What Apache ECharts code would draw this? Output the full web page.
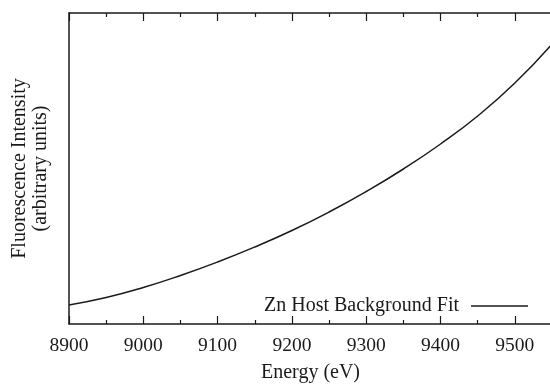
<!DOCTYPE html>
<html>
<head>
<meta charset="utf-8">
<script src="https://cdn.jsdelivr.net/npm/echarts@6/dist/echarts.min.js"></script>
<style>
  html, body { margin: 0; padding: 0; background: #fff; }
  #chart { width: 550px; height: 387px; }
</style>
</head>
<body>
<div id="chart"></div>
<script>
// energy in eV, intensity in arbitrary units
const energy = [8900, 8950, 9000, 9050, 9100, 9150, 9200, 9250, 9300, 9350, 9400, 9450, 9500, 9550];
const intensity = [19, 26.5, 36.5, 48.5, 62, 77, 93.5, 112, 132.5, 155, 180, 208, 241, 280];
const xTicks = [8900, 9000, 9100, 9200, 9300, 9400, 9500];

const chart = echarts.init(document.getElementById('chart'));
const font = 'Liberation Serif';
const ink = '#1a1a1a';

const points = energy.map((e, i) => [e, intensity[i]]);

const option = {
  animation: false,
  textStyle: { fontFamily: font, color: ink },
  grid: { left: 69, right: -2, top: 13, bottom: 63, containLabel: false, outerBoundsMode: 'none' },
  legend: {
    data: [{ name: 'Zn Host Background Fit', icon: 'rect' }],
    right: 17,
    top: 291,
    align: 'right',
    itemWidth: 57,
    itemHeight: 1.5,
    itemStyle: { color: ink },
    textStyle: { fontFamily: font, fontSize: 20, color: ink, padding: [0, 7, 0, 0] }
  },
  xAxis: [
    {
      type: 'value',
      min: 8900,
      max: 9550,
      interval: 100,
      name: 'Energy (eV)',
      nameLocation: 'middle',
      nameGap: 39,
      nameTextStyle: { fontFamily: font, fontSize: 20, color: ink },
      axisLine: { show: true, lineStyle: { color: ink, width: 1.5 } },
      axisTick: { show: true, inside: true, length: 8, lineStyle: { color: ink, width: 1.2 } },
      minorTick: { show: true, splitNumber: 2, length: 4, lineStyle: { color: ink, width: 1.2 } },
      splitLine: { show: false },
      axisLabel: {
        fontFamily: font, fontSize: 19.5, color: ink, margin: 12,
        formatter: v => xTicks.includes(v) ? String(v) : ''
      }
    },
    {
      type: 'value',
      position: 'top',
      min: 8900,
      max: 9550,
      interval: 100,
      axisLine: { show: true, lineStyle: { color: ink, width: 1.5 } },
      axisTick: { show: true, inside: true, length: 8, lineStyle: { color: ink, width: 1.2 } },
      minorTick: { show: true, splitNumber: 2, length: 4, lineStyle: { color: ink, width: 1.2 } },
      splitLine: { show: false },
      axisLabel: { show: false }
    }
  ],
  yAxis: {
    type: 'value',
    min: 0,
    max: 311,
    name: 'Fluorescence Intensity\n(arbitrary units)',
    nameLocation: 'middle',
    nameGap: 18,
    nameTextStyle: { fontFamily: font, fontSize: 20, color: ink, lineHeight: 21 },
    axisLine: { show: true, lineStyle: { color: ink, width: 1.5 } },
    axisTick: { show: false },
    axisLabel: { show: false },
    splitLine: { show: false }
  },
  series: [
    {
      name: 'Zn Host Background Fit',
      type: 'line',
      data: points,
      smooth: true,
      symbol: 'none',
      lineStyle: { color: ink, width: 1.5 },
      itemStyle: { color: ink }
    }
  ]
};

chart.setOption(option);
</script>
</body>
</html>
